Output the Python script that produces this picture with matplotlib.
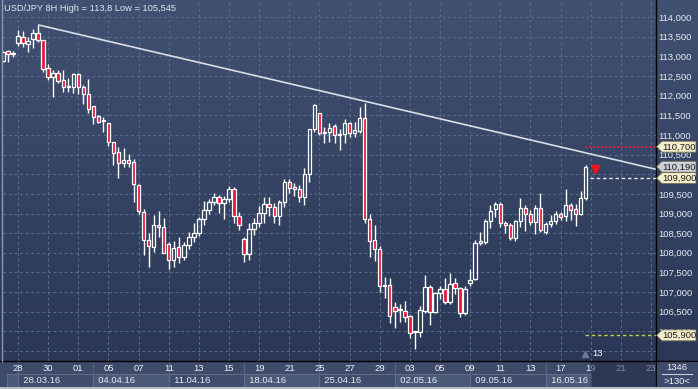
import matplotlib
matplotlib.use("Agg")
import matplotlib.pyplot as plt
import matplotlib.transforms as mtransforms
from matplotlib.patches import Polygon, Rectangle
import numpy as np

plt.rcParams['font.family'] = ['Liberation Sans', 'DejaVu Sans']

# ---------------- data ----------------
candle_idx = list(range(-3, 114))
opens = [112.88, 113.13, 113.06,
         113.35, 113.50, 113.31, 113.43, 113.60, 113.41, 112.69, 112.47, 112.58, 112.40,
         112.21, 112.23, 112.55, 112.21, 112.04, 111.74, 111.48, 111.36, 111.30, 110.83,
         110.57, 110.28, 110.36, 110.30, 109.73, 109.05, 108.33, 108.16, 108.71, 108.65,
         108.22, 107.82, 108.14, 107.89, 108.20, 108.39, 108.50, 108.85, 109.09, 109.30,
         109.41, 109.26, 109.36, 109.62, 108.94, 108.34, 107.97, 108.60, 108.75, 109.02,
         109.23, 109.16, 108.94, 109.28, 109.79, 109.67, 109.62, 109.43, 110.00, 111.14,
         111.55, 111.08, 111.08, 111.23, 111.00, 111.02, 111.30, 111.04, 111.11, 111.42,
         108.85, 108.33, 108.09, 107.16, 107.18, 106.63, 106.54, 106.53, 106.40, 105.98,
         105.98, 106.53, 107.12, 106.50, 106.97, 107.07, 106.76, 107.22, 107.10, 106.46,
         107.22, 107.33, 108.26, 108.28, 108.82, 109.11, 109.24, 108.75, 108.71, 108.37,
         108.81, 109.13, 108.99, 108.79, 109.13, 108.54, 108.73, 108.82, 108.99, 108.94,
         109.22, 109.11, 108.99, 109.39]
highs = [113.14, 113.16, 113.13,
         113.67, 113.64, 113.50, 113.69, 113.80, 113.42, 112.80, 112.65, 112.65, 112.65,
         112.45, 112.58, 112.58, 112.27, 112.41, 111.74, 111.51, 111.46, 111.30, 110.83,
         110.70, 110.67, 110.51, 110.38, 109.75, 109.11, 108.50, 108.96, 109.07, 108.88,
         108.28, 108.31, 108.41, 108.28, 108.54, 108.75, 108.92, 109.33, 109.36, 109.51,
         109.47, 109.45, 109.70, 109.67, 109.04, 108.41, 108.75, 108.88, 109.19, 109.43,
         109.41, 109.27, 109.34, 109.87, 109.87, 109.77, 109.73, 110.15, 111.14, 111.79,
         111.56, 111.21, 111.30, 111.28, 111.14, 111.40, 111.34, 111.34, 111.72, 111.82,
         109.00, 108.71, 108.17, 107.39, 107.35, 106.76, 106.70, 106.78, 106.42, 106.02,
         106.65, 107.43, 107.18, 107.00, 107.16, 107.35, 107.48, 107.35, 107.14, 107.16,
         107.58, 108.33, 108.54, 108.85, 109.22, 109.30, 109.30, 108.82, 108.75, 108.83,
         109.39, 109.22, 109.09, 109.22, 109.51, 108.79, 108.96, 109.07, 109.05, 109.62,
         109.26, 109.24, 109.58, 110.23]
lows = [112.86, 112.86, 112.99,
        113.26, 113.24, 113.12, 113.20, 113.37, 112.61, 112.40, 111.97, 112.33, 112.10,
        112.10, 112.07, 112.04, 111.79, 111.56, 111.28, 111.30, 111.08, 110.72, 110.23,
        109.90, 110.19, 110.19, 109.28, 108.99, 107.94, 107.63, 108.03, 108.41, 107.99,
        107.58, 107.63, 107.73, 107.82, 108.09, 108.28, 108.43, 108.71, 108.99, 109.22,
        109.02, 108.85, 109.30, 108.77, 108.58, 107.77, 107.82, 108.45, 108.66, 108.75,
        108.94, 108.77, 108.71, 109.16, 109.53, 109.45, 109.30, 109.22, 109.81, 111.08,
        111.00, 110.80, 110.83, 110.79, 110.62, 110.80, 110.95, 110.95, 111.04, 108.75,
        107.89, 107.80, 107.01, 106.84, 106.22, 106.08, 106.25, 106.25, 105.82, 105.545,
        105.85, 106.46, 106.16, 106.46, 106.82, 106.71, 106.71, 106.95, 106.37, 106.42,
        107.16, 107.31, 108.20, 108.22, 108.63, 108.92, 108.65, 108.50, 108.33, 108.31,
        108.65, 108.56, 108.71, 108.48, 108.54, 108.48, 108.65, 108.73, 108.83, 108.82,
        108.83, 108.68, 108.96, 109.34]
closes = [113.12, 113.06, 113.07,
          113.52, 113.33, 113.40, 113.60, 113.41, 112.67, 112.47, 112.57, 112.38, 112.21,
          112.23, 112.55, 112.21, 112.04, 111.65, 111.46, 111.34, 111.35, 110.83, 110.55,
          110.29, 110.36, 110.29, 109.75, 109.07, 108.33, 108.17, 108.71, 108.65, 108.00,
          107.82, 108.11, 107.89, 108.20, 108.39, 108.50, 108.85, 109.09, 109.30, 109.41,
          109.26, 109.37, 109.62, 108.94, 108.72, 107.97, 108.60, 108.77, 109.02, 109.23,
          109.16, 108.94, 109.28, 109.79, 109.66, 109.62, 109.41, 110.00, 111.14, 111.76,
          111.06, 111.06, 111.17, 111.00, 111.01, 111.30, 111.04, 111.12, 111.42, 108.85,
          108.31, 108.09, 107.16, 107.17, 106.40, 106.53, 106.55, 106.36, 105.95, 105.99,
          106.54, 107.12, 106.50, 106.97, 107.07, 106.76, 107.21, 107.10, 106.46, 107.07,
          107.32, 108.26, 108.30, 108.82, 109.07, 109.24, 108.75, 108.70, 108.37, 108.82,
          109.13, 108.99, 108.79, 109.13, 108.58, 108.73, 108.82, 108.99, 108.92, 109.22,
          109.09, 108.99, 109.39, 110.19]

day_tick_idx = [0, 6, 12, 18, 24, 30, 36, 42, 48, 54, 60, 66, 72, 78, 84, 90, 96, 102, 108, 114, 120, 126]
day_labels = ['28', '30', '01', '05', '07', '11', '13', '15', '19', '21', '25', '27', '29',
              '03', '05', '09', '11', '13', '17', '19', '21', '23']
week_start_idx = [0, 15, 30, 45, 60, 75, 90, 105]
week_end_idx = [15, 30, 45, 60, 75, 90, 105, 114]
week_labels = ['28.03.16', '04.04.16', '11.04.16', '18.04.16', '25.04.16', '02.05.16', '09.05.16', '16.05.16']

price_ticks = [106.0, 106.5, 107.0, 107.5, 108.0, 108.5, 109.0, 109.5, 110.0, 110.5,
               111.0, 111.5, 112.0, 112.5, 113.0, 113.5, 114.0]
# 110,000 is completely hidden behind the price tags in the reference
price_tick_labels = ['106,000', '106,500', '107,000', '107,500', '108,000', '108,500',
                     '109,000', '109,500', '', '110,500', '111,000', '111,500',
                     '112,000', '112,500', '113,000', '113,500', '114,000']

trend_x = [4, 127]
trend_y = [113.8, 110.125]

level_prices = [110.70, 110.19, 109.90, 105.90]
level_labels = ['110,700', '110,190', '109,900', '105,900']

title_text = 'USD/JPY 8H High = 113,8 Low = 105,545'
counter_top = '1346'
counter_bottom = '>130<'
marker_text = '13'

FS = 6.8
TXT = '#e6ebf2'

# ---------------- figure ----------------
W, H = 698, 389
fig = plt.figure(figsize=(W / 100, H / 100), dpi=100)

# background axes in pixel coordinates
bg = fig.add_axes([0, 0, 1, 1], zorder=0)
bg.set_xlim(0, W)
bg.set_ylim(H, 0)
bg.axis('off')
t = np.linspace(0, 1, 256)[:, None, None]
top_c = np.array([0x41, 0x51, 0x72]) / 255.0
bot_c = np.array([0x2a, 0x37, 0x56]) / 255.0
grad = top_c + (bot_c - top_c) * t
grad = np.repeat(grad, 2, axis=1)
bg.imshow(grad, extent=[0, W, 361, 0], aspect='auto', interpolation='bilinear')

# main axes
ax = fig.add_axes([3 / W, 28 / H, 653 / W, 360 / H], zorder=1)
ax.set_facecolor('none')
ymin, ymax = 105.247, 114.407
ax.set_ylim(ymin, ymax)
ax.set_xlim(-2.986, 126.99)
for s in ax.spines.values():
    s.set_visible(False)

ax.yaxis.tick_right()
ax.set_yticks(price_ticks)
ax.set_yticklabels(price_tick_labels)
ax.set_yticks([105.5], minor=True)
ax.set_xticks(day_tick_idx)
ax.set_xticklabels(day_labels)
ax.tick_params(axis='y', length=0, pad=2.0, labelsize=FS, labelcolor=TXT)
ax.tick_params(axis='x', length=0, pad=2.2, labelsize=FS, labelcolor='#eef2f7')
ax.tick_params(axis='y', which='minor', length=0)
ax.grid(True, which='both', color='#5a6a8c', linestyle=(0, (2.5, 2.5)), linewidth=0.8, zorder=0)
ax.set_axisbelow(True)

# x strip (on background axes, below tick labels)
bg.add_patch(Rectangle((0, 361), 698, 26, facecolor='#3d4a69', edgecolor='none', zorder=1))
blend_bg = mtransforms.blended_transform_factory(ax.transData, bg.transData)
for k, (ws, we, lab) in enumerate(zip(week_start_idx, week_end_idx, week_labels)):
    fc = '#4b5978' if k % 2 == 1 else '#3f4c6b'
    bg.add_patch(Rectangle((ws, 374), we - ws, 13, transform=blend_bg, facecolor=fc,
                           edgecolor='#5f6d8b', linewidth=0.8, zorder=2))
    bg.plot([ws, ws], [361, 374], transform=blend_bg, color='#56647f', linewidth=0.8, zorder=2)
    bg.text(ws, 380.5, '  ' + lab, transform=blend_bg, color='#e8edf4', fontsize=FS,
            ha='left', va='center', zorder=3)
bg.add_patch(Rectangle((7, 374), 11, 13, facecolor='#4b5978', edgecolor='#5f6d8b',
                       linewidth=0.8, zorder=2))

# candles
idx = np.array(candle_idx, dtype=float)
o = np.array(opens); h = np.array(highs); l = np.array(lows); c = np.array(closes)
body_lo = np.minimum(o, c)
body_hi = np.maximum(o, c)
body_h = np.maximum(body_hi - body_lo, 0.025)
up = c >= o
red = '#e5163a'
ax.vlines(idx, body_hi, h, color='white', linewidth=1.0, zorder=3)
ax.vlines(idx, l, body_lo, color='white', linewidth=1.0, zorder=3)
ax.bar(idx[up], body_h[up], bottom=body_lo[up], width=0.68, facecolor='none',
       edgecolor='white', linewidth=0.9, zorder=4)
ax.bar(idx[~up], body_h[~up], bottom=body_lo[~up], width=0.68, facecolor=red,
       edgecolor='white', linewidth=0.9, zorder=4)

# trend line
ax.plot(trend_x, trend_y, color='#d9dde5', linewidth=1.2, zorder=5, solid_capstyle='butt')

# level lines
ax.plot([112.9, 127], [level_prices[0]] * 2, color='#e8203a', linewidth=1.2,
        linestyle=(0, (1.2, 1.2)), zorder=5)
ax.plot([113.9, 127], [level_prices[2]] * 2, color='#e8e8e8', linewidth=1.0,
        linestyle=(0, (2.5, 2)), zorder=5)
ax.plot([112.9, 127], [level_prices[3]] * 2, color='#b9d445', linewidth=1.0,
        linestyle=(0, (2.5, 2)), zorder=5)

# red arrow
ax.annotate('', xy=(115.0, 109.91), xytext=(115.0, 110.18),
            arrowprops=dict(arrowstyle='-|>', color='#ff1010', lw=2.0, mutation_scale=10),
            zorder=6)

# triangle marker and "13"
ax.plot([112.9], [105.43], marker='^', color='#6b7793', markersize=4, zorder=6, clip_on=False)
ax.text(114.3, 105.43, marker_text, color='#f0f3f8', fontsize=FS, va='center', ha='left', zorder=6)

# title
fig.text(4 / W, 1 - 8.5 / H, title_text, color='#dfe5ee', fontsize=6.7, ha='left', va='center')

# ---------------- overlay (pixel coords) ----------------
ov = fig.add_axes([0, 0, 1, 1], zorder=2)
ov.set_xlim(0, W)
ov.set_ylim(H, 0)
ov.axis('off')
ov.patch.set_alpha(0)
blend = mtransforms.blended_transform_factory(ax.transData, ov.transData)

# future zone dimming
ov.add_patch(Rectangle((114, 361), 13, 26, transform=blend, facecolor='#1c2742',
                       alpha=0.5, edgecolor='none', zorder=3))

# frame lines
ov.plot([0, W], [361, 361], color='black', linewidth=1.0, zorder=4)
ov.plot([656, 656], [0, 389], color='black', linewidth=1.0, zorder=4)
ov.plot([1.5, 1.5], [0, 361], color='#8e98aa', linewidth=1.0, zorder=4)
ov.add_patch(Rectangle((0, 387), W, 2, facecolor='#b9bdc6', edgecolor='none', zorder=4))

# counter box
ov.add_patch(Rectangle((656.5, 361.5), 41.5, 25.5, facecolor='#3d4a69', edgecolor='none', zorder=4.5))
ov.text(677, 367.5, counter_top, color='#eef2f8', fontsize=FS, ha='center', va='center', zorder=5)
ov.plot([662, 692], [374, 374], color='#c5cbd8', linewidth=0.8, zorder=5)
ov.text(677, 381, counter_bottom, color='#eef2f8', fontsize=FS, ha='center', va='center', zorder=5)

# price tags
tag_fc = ['#f3edc9', '#cdd0d8', '#f3edc9', '#f3edc9']
for p, lab, fcol in zip(level_prices, level_labels, tag_fc):
    yd = ax.transData.transform((0, p))[1]
    yc = H - yd
    pts = [(656.5, yc), (662, yc - 5.5), (696, yc - 5.5), (696, yc + 5.5), (662, yc + 5.5)]
    ov.add_patch(Polygon(pts, closed=True, facecolor=fcol, edgecolor='#6a6650',
                         linewidth=0.6, zorder=6))
    ov.text(679, yc + 0.3, lab, color='#1c1c1c', fontsize=FS, ha='center', va='center', zorder=7)

fig.savefig('out.png', dpi=100)
